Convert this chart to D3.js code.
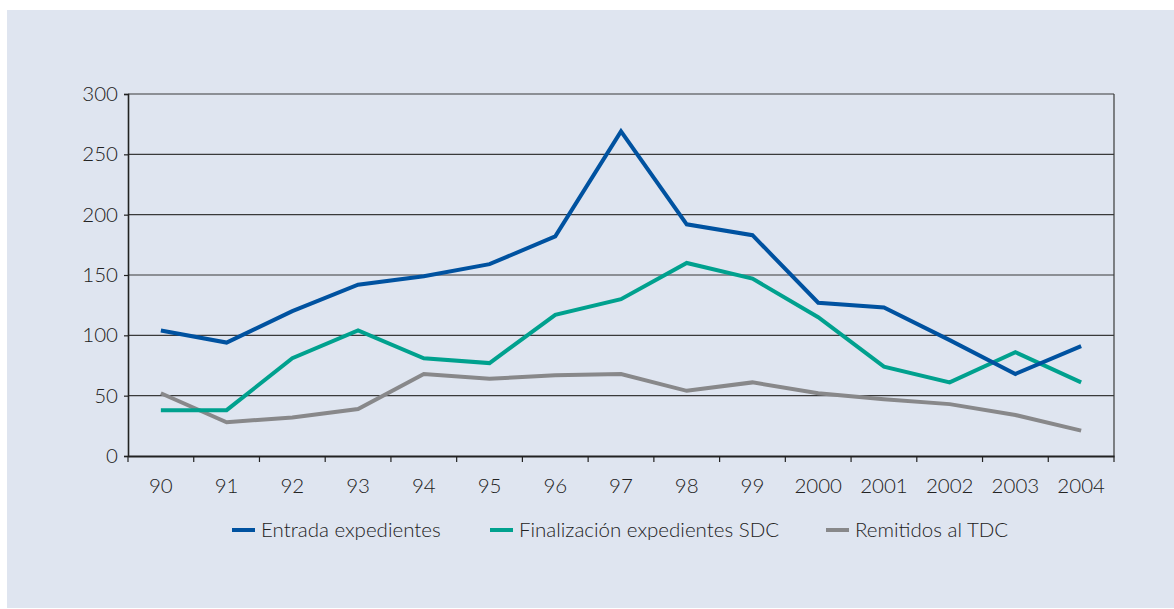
<!DOCTYPE html>
<html><head><meta charset="utf-8">
<script src="https://cdn.jsdelivr.net/npm/d3@7"></script>
<style>
html,body{margin:0;padding:0;background:#fff;}
svg{display:block;}
text{font-family:Lato,"Open Sans",sans-serif;fill:#222;font-weight:300;}
</style></head>
<body>
<svg id="c" width="1174" height="609"></svg>
<script>
const categories = ["90","91","92","93","94","95","96","97","98","99","2000","2001","2002","2003","2004"];
const entrada = [104,94,120,142,149,159,182,269,192,183,127,123,96,68,91];
const finalizacion = [38,38,81,104,81,77,117,130,160,147,115,74,61,86,61];
const remitidos = [52,28,32,39,68,64,67,68,54,61,52,47,43,34,21];
const seriesNames = ["Entrada expedientes","Finalización expedientes SDC","Remitidos al TDC"];
const seriesColors = ["#0052a0","#00a18e","#88888a"];
const yTicks = [0,50,100,150,200,250,300];

const FONT = "Lato,'Open Sans',sans-serif";
const FS = 20.5;
const TXT = "#222";
const svg = d3.select("#c");
svg.append("rect").attr("x",7).attr("y",10).attr("width",1167).attr("height",598).attr("fill","#dfe5f0");

const pL=128, pR=1114, pT=94, pB=456;
const x = d3.scaleBand().domain(categories).range([pL,pR]);
const y = d3.scaleLinear().domain([0,300]).range([pB,pT]);

// gridlines
svg.append("g").selectAll("line").data(yTicks.filter(d=>d>0)).join("line")
  .attr("x1",pL).attr("x2",pR).attr("y1",d=>y(d)).attr("y2",d=>y(d))
  .attr("stroke","#3a3a3a").attr("stroke-width",1.2);
// right border
svg.append("line").attr("x1",pR).attr("x2",pR).attr("y1",pT).attr("y2",pB)
  .attr("stroke","#3a3a3a").attr("stroke-width",1.2);

// y axis
const yAxis = svg.append("g").attr("transform",`translate(${pL},0)`)
  .call(d3.axisLeft(y).tickValues(yTicks).tickSize(4).tickPadding(6));
yAxis.select(".domain").attr("stroke","#222").attr("stroke-width",1.6);
yAxis.selectAll(".tick line").attr("stroke","#222").attr("stroke-width",1.2);
yAxis.selectAll("text").attr("font-size",FS).attr("fill",TXT).style("font-family",FONT).style("font-weight",300);

// x axis with ticks at band boundaries
const xAxis = svg.append("g").attr("transform",`translate(0,${pB})`)
  .call(d3.axisBottom(x).tickSize(0));
xAxis.select(".domain").attr("stroke","#222").attr("stroke-width",2);
xAxis.selectAll("text").attr("font-size",FS).attr("fill",TXT).style("font-family",FONT).style("font-weight",300)
  .attr("y",37).attr("dy",null);
const bounds = categories.map(c=>x(c)).concat([pR]);
svg.append("g").selectAll("line").data(bounds).join("line")
  .attr("x1",d=>d).attr("x2",d=>d).attr("y1",pB).attr("y2",pB+6)
  .attr("stroke","#222").attr("stroke-width",1.2);

// lines
const allSeries = [entrada, finalizacion, remitidos];
const line = d3.line().x((d,i)=>x(categories[i])+x.bandwidth()/2).y(d=>y(d));
[2,1,0].forEach(k=>{
  svg.append("path").datum(allSeries[k]).attr("d",line)
    .attr("fill","none").attr("stroke",seriesColors[k]).attr("stroke-width",4)
    .attr("stroke-linejoin","miter");
});

// legend
const legendX = [232, 490, 826];
const lg = svg.append("g");
seriesNames.forEach((n,i)=>{
  lg.append("rect").attr("x",legendX[i]).attr("y",528).attr("width",23).attr("height",4).attr("fill",seriesColors[i]);
  lg.append("text").attr("x",legendX[i]+29).attr("y",537).attr("font-size",FS).attr("fill",TXT).style("font-family",FONT).style("font-weight",300).text(n);
});
</script>
</body></html>
